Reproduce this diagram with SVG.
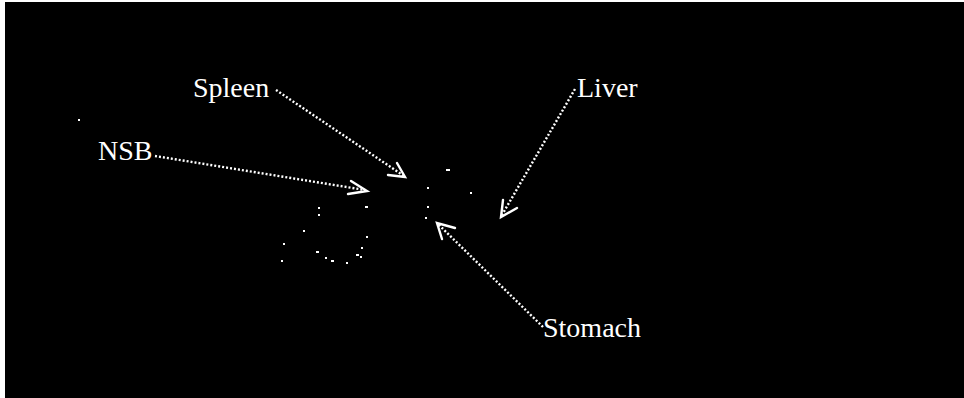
<svg xmlns="http://www.w3.org/2000/svg" width="964" height="398" viewBox="0 0 964 398">
<style>
.lbl{font-family:"Liberation Serif","Times New Roman",serif;font-size:28px;fill:#fff}
.dot{stroke:#fff;stroke-width:2.4;stroke-dasharray:2 2;fill:none}
.head{stroke:#fff;stroke-width:2.4;fill:none;stroke-linecap:round;stroke-linejoin:miter}
.speck{fill:#fff}
</style>
<rect x="0" y="0" width="964" height="398" fill="#fff"/>
<rect x="5" y="2" width="959" height="396" fill="#000"/>
<g id="specks">
<rect class="speck" x="78" y="119" width="2" height="2"/>
<rect class="speck" x="446" y="169" width="4" height="2"/>
<rect class="speck" x="427" y="187" width="2" height="2"/>
<rect class="speck" x="470" y="192" width="2" height="2"/>
<rect class="speck" x="427" y="206" width="2" height="2"/>
<rect class="speck" x="425" y="217" width="2" height="2"/>
<rect class="speck" x="365" y="206" width="3" height="2"/>
<rect class="speck" x="318" y="207" width="2" height="2"/>
<rect class="speck" x="318" y="214" width="2" height="2"/>
<rect class="speck" x="303" y="230" width="2" height="2"/>
<rect class="speck" x="283" y="243" width="2" height="2"/>
<rect class="speck" x="281" y="260" width="2" height="2"/>
<rect class="speck" x="366" y="236" width="2" height="2"/>
<rect class="speck" x="361" y="247" width="2" height="2"/>
<rect class="speck" x="316" y="251" width="3" height="2"/>
<rect class="speck" x="356" y="254" width="3" height="2"/>
<rect class="speck" x="360" y="256" width="2" height="2"/>
<rect class="speck" x="325" y="257" width="2" height="2"/>
<rect class="speck" x="331" y="260" width="3" height="2"/>
<rect class="speck" x="346" y="262" width="2" height="2"/>
</g>
<g id="connectors">
<line class="dot" x1="276" y1="90" x2="404" y2="176"/>
<polyline class="head" points="397,163 405,177 388,175"/>
<line class="dot" x1="155" y1="156" x2="365" y2="190"/>
<polyline class="head" points="351,181 367,191 348,194"/>
<line class="dot" x1="575" y1="89" x2="502" y2="215"/>
<polyline class="head" points="503,200 501,217 517,208"/>
<line class="dot" x1="543" y1="327" x2="439" y2="225"/>
<polyline class="head" points="455,228 437,223 442,239"/>
</g>
<g id="spleen"><text class="lbl" x="193" y="97">Spleen</text></g>
<g id="nsb"><text class="lbl" x="98" y="160">NSB</text></g>
<g id="liver"><text class="lbl" x="577" y="97">Liver</text></g>
<g id="stomach"><text class="lbl" x="543" y="337">Stomach</text></g>
</svg>
